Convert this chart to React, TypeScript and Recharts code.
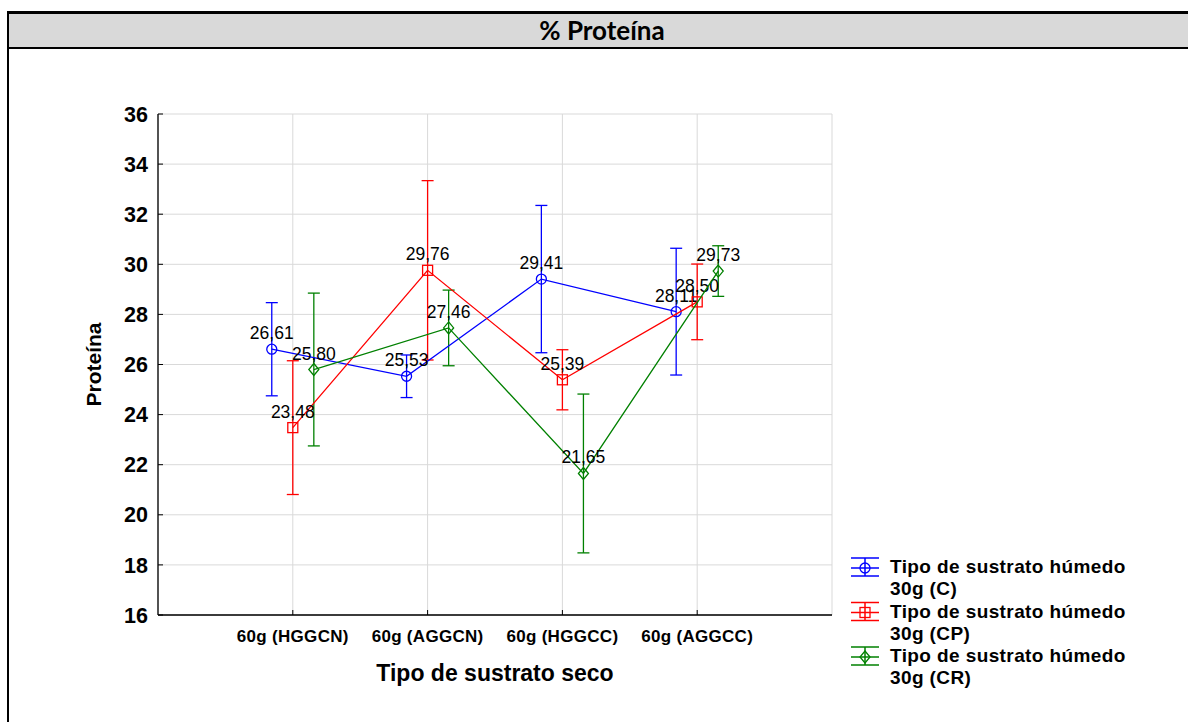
import React from "react"
import {
  ScatterChart,
  Scatter,
  XAxis,
  YAxis,
  CartesianGrid,
  ErrorBar,
  Legend,
} from "recharts"

const categories = ["60g (HGGCN)", "60g (AGGCN)", "60g (HGGCC)", "60g (AGGCC)"]
const yTicks = [16, 18, 20, 22, 24, 26, 28, 30, 32, 34, 36]

// medias y semiamplitud de los intervalos
const meanC = [26.61, 25.53, 29.41, 28.11]
const errC = [1.86, 0.85, 2.94, 2.53]
const meanCP = [23.48, 29.76, 25.39, 28.5]
const errCP = [2.67, 3.58, 1.2, 1.51]
const meanCR = [25.8, 27.46, 21.65, 29.73]
const errCR = [3.05, 1.51, 3.17, 1.01]

const legendTitle = "Tipo de sustrato húmedo"
const seriesLabels = ["30g (C)", "30g (CP)", "30g (CR)"]

const FONT = "'Liberation Sans', Arial, sans-serif"

type Kind = "circle" | "square" | "diamond"

const series: { mean: number[]; err: number[]; color: string; kind: Kind; shift: number }[] = [
  { mean: meanC, err: errC, color: "#0000FF", kind: "circle", shift: -0.156 },
  { mean: meanCP, err: errCP, color: "#FF0000", kind: "square", shift: 0 },
  { mean: meanCR, err: errCR, color: "#008000", kind: "diamond", shift: 0.156 },
]

const fmt = (v: number) => v.toFixed(2).replace(".", ",")

function MarkerGlyph({ cx, cy, kind, color }: { cx: number; cy: number; kind: Kind; color: string }) {
  const common = { fill: "none", stroke: color, strokeWidth: 1.3 }
  if (kind === "circle") return <circle cx={cx} cy={cy} r={5} {...common} />
  if (kind === "square") return <rect x={cx - 5} y={cy - 5} width={10} height={10} {...common} />
  return <polygon points={`${cx},${cy - 6} ${cx + 5},${cy} ${cx},${cy + 6} ${cx - 5},${cy}`} {...common} />
}

const makeShape = (kind: Kind, color: string) => (props: any) => {
  const { cx, cy, payload } = props
  return (
    <g>
      <MarkerGlyph cx={cx} cy={cy} kind={kind} color={color} />
      <text x={cx} y={cy - 10} textAnchor="middle" fontSize={17.5} fill="#000" fontFamily={FONT}>
        {fmt(payload.y)}
      </text>
    </g>
  )
}

function LegendBox() {
  return (
    <svg width={320} height={150} style={{ overflow: "visible" }}>
      {series.map((s, i) => {
        const my = 16 + i * 44.5
        return (
          <g key={i}>
            <line x1={3} x2={31} y1={my - 10} y2={my - 10} stroke={s.color} strokeWidth={1.5} />
            <line x1={3} x2={31} y1={my} y2={my} stroke={s.color} strokeWidth={1.5} />
            <line x1={3} x2={31} y1={my + 8} y2={my + 8} stroke={s.color} strokeWidth={1.5} />
            <line x1={17} x2={17} y1={my - 10} y2={my + 8} stroke={s.color} strokeWidth={1.5} />
            <MarkerGlyph cx={17} cy={my} kind={s.kind} color={s.color} />
            <text x={42} y={my + 5} fontSize={19} fontWeight="bold" letterSpacing={0.4} fill="#000" fontFamily={FONT}>
              {legendTitle}
            </text>
            <text x={42} y={my + 27} fontSize={19} fontWeight="bold" letterSpacing={0.4} fill="#000" fontFamily={FONT}>
              {seriesLabels[i]}
            </text>
          </g>
        )
      })}
    </svg>
  )
}

export default function App() {
  return (
    <div style={{ position: "absolute", left: 0, top: 0, width: 1188, height: 722, overflow: "hidden", background: "#fff" }}>
      <div
        style={{
          position: "absolute",
          left: 7,
          top: 11,
          width: 1186,
          height: 800,
          borderLeft: "2px solid #000",
          borderTop: "3px solid #000",
        }}
      >
        <div
          style={{
            height: 33,
            background: "#d9d9d9",
            borderBottom: "2.5px solid #000",
            textAlign: "center",
            fontFamily: "Lato, sans-serif",
            fontWeight: 700,
            fontSize: 26,
            lineHeight: "33px",
            color: "#000",
          }}
        >
          % Proteína
        </div>
      </div>
      <div style={{ position: "absolute", left: 0, top: 0 }}>
        <ScatterChart
          width={1188}
          height={722}
          margin={{ top: 114, right: 356, bottom: 27, left: 0 }}
          style={{ fontFamily: FONT }}
        >
          <CartesianGrid stroke="#d9d9d9" strokeWidth={1} />
          <XAxis
            dataKey="x"
            type="number"
            domain={[0, 5]}
            ticks={[1, 2, 3, 4]}
            interval={0}
            tickFormatter={(v: number) => categories[Math.round(v) - 1]}
            height={80}
            axisLine={{ stroke: "#000", strokeWidth: 1.3 }}
            tickLine={{ stroke: "#000" }}
            tickSize={-5}
            tickMargin={20}
            tick={{ fill: "#000", fontSize: 17, fontWeight: "bold", letterSpacing: 0.3 }}
            label={{ value: "Tipo de sustrato seco", position: "insideBottom", offset: 14, fill: "#000", fontSize: 23, fontWeight: "bold" }}
          />
          <XAxis
            xAxisId="top"
            orientation="top"
            type="number"
            domain={[0, 5]}
            height={0}
            tick={false}
            tickLine={false}
            axisLine={{ stroke: "#000", strokeWidth: 1.3 }}
          />
          <YAxis
            dataKey="y"
            type="number"
            domain={[16, 36]}
            ticks={yTicks}
            interval={0}
            width={158}
            axisLine={{ stroke: "#000", strokeWidth: 1.3 }}
            tickLine={{ stroke: "#000" }}
            tickSize={-5}
            tickMargin={15}
            tick={{ fill: "#000", fontSize: 21.5, fontWeight: "bold" }}
            label={{
              content: (p: any) => {
                const vb = p.viewBox || { y: 114, height: 501 }
                const cy = vb.y + vb.height / 2
                return (
                  <text
                    x={101}
                    y={cy}
                    transform={`rotate(-90, 101, ${cy})`}
                    textAnchor="middle"
                    fontSize={21}
                    fontWeight="bold"
                    fill="#000"
                    fontFamily={FONT}
                  >
                    Proteína
                  </text>
                )
              },
            }}
          />
          <YAxis
            yAxisId="right"
            orientation="right"
            type="number"
            domain={[16, 36]}
            ticks={yTicks}
            interval={0}
            width={0}
            tick={false}
            tickSize={-5}
            tickLine={{ stroke: "#000" }}
            axisLine={{ stroke: "#000", strokeWidth: 1.3 }}
          />
          {series.map((s, si) => (
            <Scatter
              key={si}
              data={s.mean.map((m, i) => ({ x: i + 1 + s.shift, y: m, err: s.err[i] }))}
              fill="none"
              line={{ stroke: s.color, strokeWidth: 1.3 }}
              lineType="joint"
              shape={makeShape(s.kind, s.color)}
              isAnimationActive={false}
            >
              <ErrorBar dataKey="err" direction="y" width={6} stroke={s.color} strokeWidth={1.3} />
            </Scatter>
          ))}
          <Legend
            layout="vertical"
            align="center"
            verticalAlign="middle"
            content={() => <LegendBox />}
            wrapperStyle={{ left: 848, top: 552, width: 320, height: 150 }}
          />
        </ScatterChart>
      </div>
    </div>
  )
}
